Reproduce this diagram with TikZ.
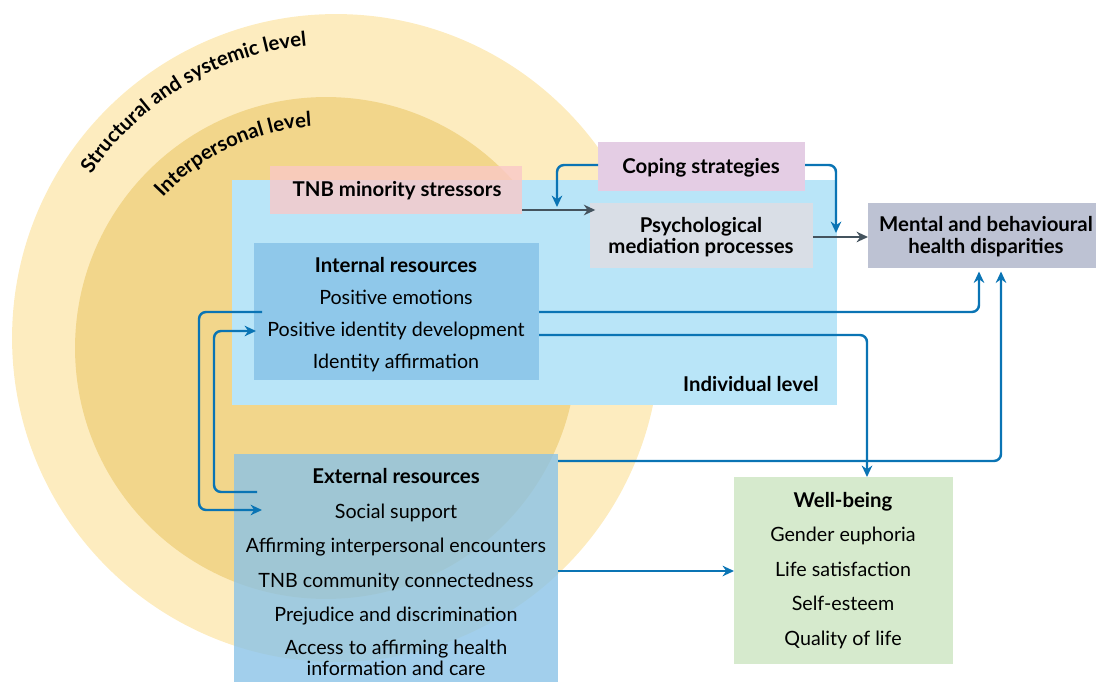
\documentclass[tikz,border=0pt]{standalone}
\usepackage{fontspec}
\setmainfont{Lato}
\usetikzlibrary{arrows.meta,decorations.text,fit}
\definecolor{outerc}{HTML}{FDECBF}
\definecolor{innerc}{HTML}{F2D68B}
\definecolor{indc}{HTML}{B9E5F8}
\definecolor{intc}{HTML}{8FC8EA}
\definecolor{tnbc}{HTML}{FAC8C8}
\definecolor{copc}{HTML}{E4CDE4}
\definecolor{psyc}{HTML}{D9DEE6}
\definecolor{menc}{HTML}{BDC2D3}
\definecolor{extc}{HTML}{8BC3E7}
\definecolor{wellc}{HTML}{D6EACD}
\definecolor{arrb}{HTML}{0A74B4}
\definecolor{arrg}{HTML}{44535E}
\begin{document}
\begin{tikzpicture}[x=0.02cm,y=-0.02cm,
  boxfit/.style={inner sep=0pt,outer sep=0pt,draw=none},
  txt/.style={anchor=base,inner sep=0pt,font=\fontsize{11.2pt}{13pt}\selectfont},
  btxt/.style={anchor=base,inner sep=0pt,font=\bfseries\fontsize{11.6pt}{13pt}\selectfont},
  barrow/.style={draw=arrb,line width=1.4pt,rounded corners=4pt,-{Stealth[length=6.5pt,width=6pt]}},
  garrow/.style={draw=arrg,line width=1.5pt,-{Stealth[length=6.5pt,width=6pt]}}]
\useasboundingbox (0,0) rectangle (1096,682);
% circles
\coordinate (O1) at (336,338);
\coordinate (O2) at (326,348);
\fill[outerc] (O1) circle[radius=6.48cm];
\fill[innerc] (O2) circle[radius=5.02cm];
\path[decorate,decoration={text along path,text align=center,
  text={|\bfseries\fontsize{11.6pt}{13pt}\selectfont|Structural and systemic level}}]
  (O1) ++(168:5.88cm) arc[start angle=168,end angle=74,radius=5.88cm];
\path[decorate,decoration={text along path,text align=center,
  text={|\bfseries\fontsize{11.6pt}{13pt}\selectfont|Interpersonal level}}]
  (O2) ++(152:4.44cm) arc[start angle=152,end angle=79,radius=4.44cm];
% boxes
\node[boxfit,fill=indc,fit={(232,180) (837,405)}] (ind) {};
\node[boxfit,fill=intc,fit={(254,243) (539,380)}] (internal) {};
\node[boxfit,fill=tnbc,fill opacity=0.78,fit={(270,166) (522,214)}] (tnb) {};
\node[boxfit,fill=copc,fit={(598,142) (805,191)}] (coping) {};
\node[boxfit,fill=psyc,fit={(590,203) (813,268)}] (psych) {};
\node[boxfit,fill=menc,fit={(868,203) (1096,268)}] (mental) {};
\node[boxfit,fill=extc,fill opacity=0.8,fit={(234,454) (558,682)}] (external) {};
\node[boxfit,fill=wellc,fit={(734,477) (953,664)}] (wellbeing) {};
% texts
\node[btxt] (t1) at (397,197) {TNB minority stressors};
\node[btxt] (t2) at (701,174) {Coping strategies};
\node[btxt] (t3) at (701,233) {Psychological};
\node[btxt] (t4) at (701,254) {mediation processes};
\node[btxt] (t5) at (986,232) {Mental and behavioural};
\node[btxt] (t6) at (986,254) {health disparities};
\node[btxt] (t7) at (396,273) {Internal resources};
\node[txt] (t8) at (396,305) {Positive emotions};
\node[txt] (t9) at (396,337) {Positive identity development};
\node[txt] (t10) at (396,369) {Identity affirmation};
\node[btxt,anchor=base east] (t11) at (819,392) {Individual level};
\node[btxt] (t12) at (396,483) {External resources};
\node[txt] (t13) at (396,518) {Social support};
\node[txt] (t14) at (396,552) {Affirming interpersonal encounters};
\node[txt] (t15) at (396,587) {TNB community connectedness};
\node[txt] (t16) at (396,621) {Prejudice and discrimination};
\node[txt] (t17) at (396,654) {Access to affirming health};
\node[txt] (t18) at (396,675) {information and care};
\node[btxt] (t19) at (843,507) {Well-being};
\node[txt] (t20) at (843,541) {Gender euphoria};
\node[txt] (t21) at (843,576) {Life satisfaction};
\node[txt] (t22) at (843,610) {Self-esteem};
\node[txt] (t23) at (843,645) {Quality of life};
% connectors
\coordinate (c1) at (557,207);
\coordinate (c2) at (836,233);
\coordinate (l1s) at (262,312);
\coordinate (l1e) at (262,510);
\coordinate (l2s) at (257,492);
\coordinate (l2e) at (256,331);
\draw[garrow] (tnb.east |- 0,210) -- ([xshift=3pt]psych.west |- 0,210);
\draw[garrow] (psych.east |- 0,237) -- (mental.west |- 0,237);
\draw[barrow] (coping.west |- 0,165) -| (c1);
\draw[barrow] (coping.east |- 0,165) -| (c2);
\draw[barrow,shorten >=2pt] (internal.east |- 0,312) -| (mental.south -| 979,0);
\draw[barrow] (internal.east |- 0,335) -| (wellbeing.north -| 867,0);
\draw[barrow,shorten >=2pt] (external.east |- 0,461) -| (mental.south -| 1001,0);
\draw[barrow] (external.east |- 0,571) -- (wellbeing.west |- 0,571);
\draw[barrow] (l1s) -- (199,312) -- (199,510) -- (l1e);
\draw[barrow] (l2s) -- (214,492) -- (214,331) -- (l2e);
\end{tikzpicture}
\end{document}
